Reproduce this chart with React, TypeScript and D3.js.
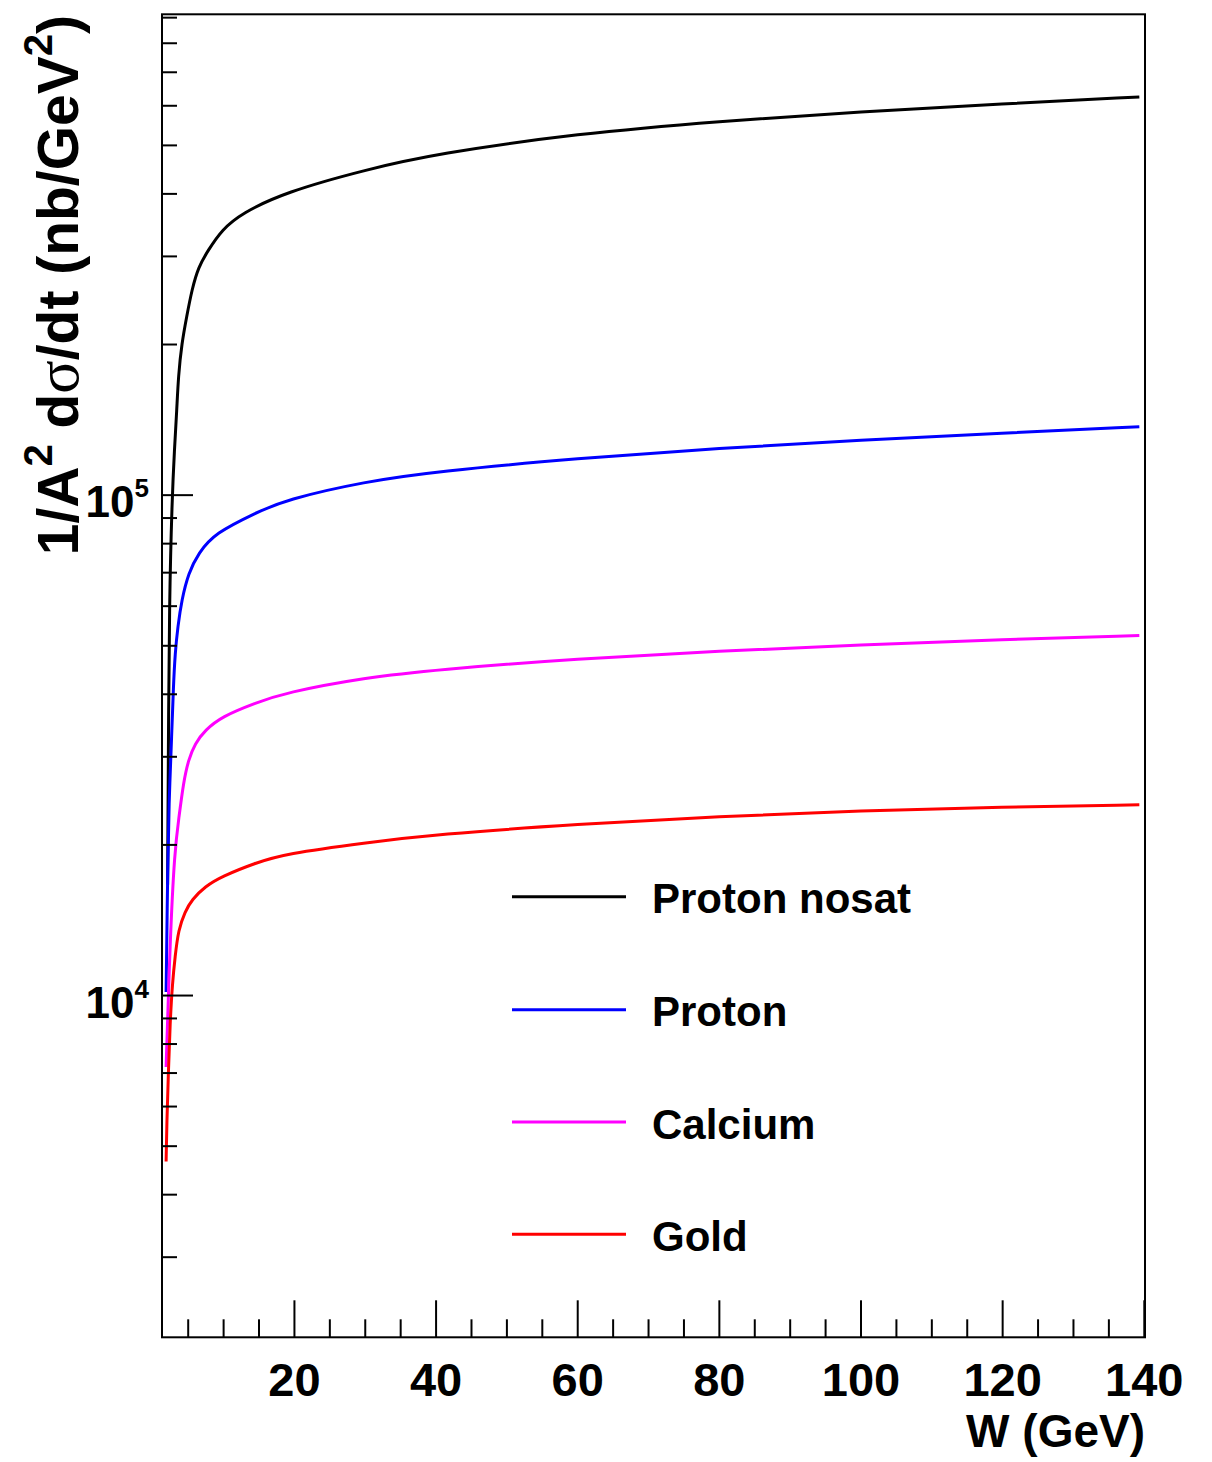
import React from 'react';
import * as d3 from 'd3';

const WIDTH = 1212;
const HEIGHT = 1462;

const seriesNames = ['Proton nosat', 'Proton', 'Calcium', 'Gold'];
const seriesColors = ['#000000', '#0000ff', '#ff00ff', '#ff0000'];

const wNosat = [2.09, 2.2, 2.34, 2.72, 3.05, 3.39, 3.61, 4.09, 4.8, 5.51, 6.44, 7.85, 9.74, 12.57, 18.68, 30, 40, 60, 80, 100, 120, 139.3];
const vNosat = [16660, 31000, 61800, 98000, 123000, 148000, 173000, 201000, 228000, 257000, 286000, 309000, 339000, 366000, 403000, 447000, 481000, 528000, 559000, 584000, 605000, 625000];

const wProton = [1.88, 2.12, 2.3, 2.68, 2.91, 3.15, 3.53, 4.09, 5.03, 6.44, 8.8, 14.44, 18.68, 30, 40, 60, 80, 100, 120, 139.3];
const vProton = [10160, 18660, 24600, 33400, 41500, 48300, 54600, 61800, 69800, 76600, 84000, 92000, 97900, 106500, 111500, 118500, 124000, 129000, 133000, 137000];

const wCalcium = [1.88, 2.44, 3.08, 3.71, 4.32, 5.03, 5.97, 7.38, 9.74, 14.44, 18.68, 30, 40, 60, 80, 100, 120, 139.3];
const vCalcium = [7200, 12900, 19500, 22800, 26600, 29600, 31900, 33900, 36100, 38400, 40300, 43200, 44800, 47100, 48800, 50200, 51500, 52400];

const wGold = [1.88, 1.98, 2.2, 2.44, 2.77, 3.15, 3.61, 4.56, 5.51, 7.38, 9.74, 14.44, 18.68, 30, 40, 60, 80, 100, 120, 139.3];
const vGold = [4660, 5570, 7010, 8820, 10590, 11970, 13530, 14720, 15540, 16520, 17300, 18400, 19200, 20200, 21000, 22000, 22800, 23400, 23800, 24050];

const xMajorTicks = [20, 40, 60, 80, 100, 120, 140];
const xMinorTicks = [5, 10, 15, 25, 30, 35, 45, 50, 55, 65, 70, 75, 85, 90, 95, 105, 110, 115, 125, 130, 135];
const yMajorTicks = [1e4, 1e5];
const yMajorExp = ['4', '5'];
const yMinorTicks = [3000, 4000, 5000, 6000, 7000, 8000, 9000, 20000, 30000, 40000, 50000, 60000, 70000, 80000, 90000, 200000, 300000, 400000, 500000, 600000, 700000, 800000, 900000];

const FONT = "'Liberation Sans', Arial, Helvetica, sans-serif";

export default function App() {
  const left = 162, right = 1145, top = 14.3, bottom = 1337.3;
  const x = d3.scaleLinear().domain([1.3, 140.1]).range([left, right]);
  const y = d3.scaleLog().domain([2075, 9.14e5]).range([bottom, top]);

  const line = d3
    .line<[number, number]>()
    .x((d) => x(d[0]))
    .y((d) => y(d[1]))
    .curve(d3.curveBasis);

  const series: [number, number][][] = [
    wNosat.map((w, i) => [w, vNosat[i]] as [number, number]),
    wProton.map((w, i) => [w, vProton[i]] as [number, number]),
    wCalcium.map((w, i) => [w, vCalcium[i]] as [number, number]),
    wGold.map((w, i) => [w, vGold[i]] as [number, number]),
  ];

  const legendY = [896.7, 1009.7, 1122, 1234.3];

  return (
    <svg
      width={WIDTH}
      height={HEIGHT}
      viewBox={`0 0 ${WIDTH} ${HEIGHT}`}
      style={{ position: 'absolute', left: 0, top: 0, background: '#fff' }}
    >
      <rect x={0} y={0} width={WIDTH} height={HEIGHT} fill="#fff" />

      {series.map((s, i) => (
        <path key={i} d={line(s) || ''} fill="none" stroke={seriesColors[i]} strokeWidth={3} />
      ))}

      <rect x={left} y={top} width={right - left} height={bottom - top} fill="none" stroke="#000" strokeWidth={2} />

      {xMajorTicks.map((t) => (
        <line key={'xM' + t} x1={x(t)} x2={x(t)} y1={bottom} y2={bottom - 37} stroke="#000" strokeWidth={2} />
      ))}
      {xMinorTicks.map((t) => (
        <line key={'xm' + t} x1={x(t)} x2={x(t)} y1={bottom} y2={bottom - 18} stroke="#000" strokeWidth={2} />
      ))}
      {xMajorTicks.map((t) => (
        <text key={'xl' + t} x={x(t)} y={1396} textAnchor="middle" fontFamily={FONT} fontWeight="bold" fontSize={47}>
          {t}
        </text>
      ))}
      <text x={1145} y={1447} textAnchor="end" fontFamily={FONT} fontWeight="bold" fontSize={46}>
        W (GeV)
      </text>

      {yMajorTicks.map((t) => (
        <line key={'yM' + t} x1={left} x2={left + 31} y1={y(t)} y2={y(t)} stroke="#000" strokeWidth={2} />
      ))}
      {yMinorTicks.map((t) => (
        <line key={'ym' + t} x1={left} x2={left + 15} y1={y(t)} y2={y(t)} stroke="#000" strokeWidth={2} />
      ))}
      {yMajorTicks.map((t, i) => (
        <text key={'yl' + t} x={149} y={y(t) + 22} textAnchor="end" fontFamily={FONT} fontWeight="bold" fontSize={44}>
          10
          <tspan fontSize={26} dy={-20}>{yMajorExp[i]}</tspan>
        </text>
      ))}

      <text
        transform="translate(78,15) rotate(-90)"
        textAnchor="end"
        fontFamily={FONT}
        fontWeight="bold"
        fontSize={57}
      >
        1/A
        <tspan fontSize={40} dy={-26}>2</tspan>
        <tspan dy={26}> d</tspan>
        <tspan fontFamily="'Liberation Serif', 'Times New Roman', serif" fontWeight="normal" fontSize={62}>σ</tspan>
        <tspan>/dt (nb/GeV</tspan>
        <tspan fontSize={40} dy={-26}>2</tspan>
        <tspan dy={26}>)</tspan>
      </text>

      {seriesNames.map((n, i) => (
        <g key={'lg' + i}>
          <line x1={512} x2={626} y1={legendY[i]} y2={legendY[i]} stroke={seriesColors[i]} strokeWidth={3} />
          <text x={652} y={legendY[i] + 16.6} fontFamily={FONT} fontWeight="bold" fontSize={42}>
            {n}
          </text>
        </g>
      ))}
    </svg>
  );
}
